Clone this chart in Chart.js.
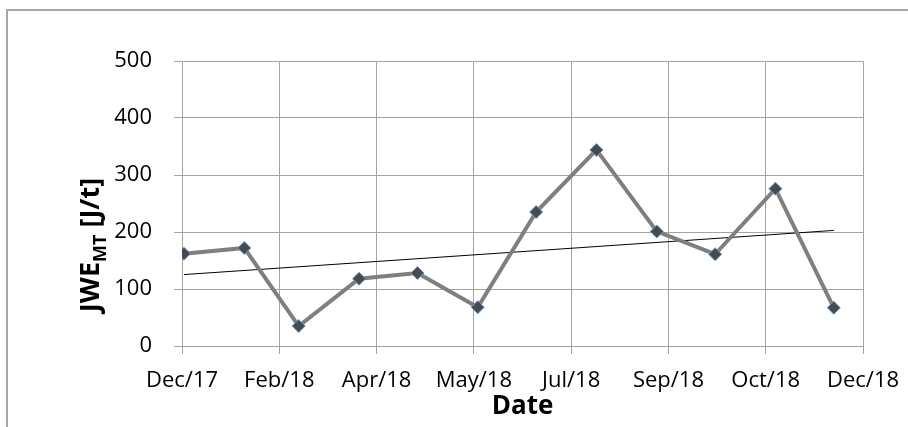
<!DOCTYPE html>
<html>
<head>
<meta charset="utf-8">
<script src="https://cdn.jsdelivr.net/npm/chart.js@4"></script>
<style>
  html, body { margin: 0; padding: 0; background: #fff; }
  #wrap { width: 908px; height: 427px; }
</style>
</head>
<body>
<div id="wrap"><canvas id="chart" width="908" height="427"></canvas></div>
<script>
// monthly samples (1st of each month)
const dates = ['2018-01-01', '2018-02-01', '2018-03-01', '2018-04-01', '2018-05-01', '2018-06-01',
               '2018-07-01', '2018-08-01', '2018-09-01', '2018-10-01', '2018-11-01', '2018-12-01']
const jweValues = [162, 172, 35, 118, 128, 68, 235, 344, 201, 161, 276, 67]

// date axis: starts 31 Dec 2017, a tick every 50 days
const axisStart = '2017-12-31'
const tickLabels = ['Dec/17', 'Feb/18', 'Apr/18', 'May/18', 'Jul/18', 'Sep/18', 'Oct/18', 'Dec/18']
const yTicks = [0, 100, 200, 300, 400, 500]

const DAY = 86400000
const toDay = d => (Date.parse(d) - Date.parse(axisStart)) / DAY

const points = dates.map((d, i) => ({ x: toDay(d), y: jweValues[i] }))

// linear trendline (least squares)
const n = points.length
const mx = points.reduce((s, p) => s + p.x, 0) / n
const my = points.reduce((s, p) => s + p.y, 0) / n
let sxy = 0, sxx = 0
points.forEach(p => { sxy += (p.x - mx) * (p.y - my); sxx += (p.x - mx) ** 2 })
const slope = sxy / sxx
const trend = [points[0].x, points[n - 1].x].map(x => ({ x: x, y: my + slope * (x - mx) }))

const gridColor = '#a3a3a3'
const font = '"Open Sans", "Liberation Sans", sans-serif'

const framePlugin = {
  id: 'frame',
  beforeDraw(chart) {
    const ctx = chart.ctx
    ctx.save()
    ctx.strokeStyle = '#a6a6a6'
    ctx.lineWidth = 2
    ctx.beginPath()
    ctx.moveTo(908, 10)
    ctx.lineTo(7, 10)
    ctx.lineTo(7, 427)
    ctx.stroke()
    ctx.restore()
  }
}

const yTitlePlugin = {
  id: 'yTitle',
  afterDraw(chart) {
    const ctx = chart.ctx
    const mainFont = 'bold 27px ' + font
    const subFont = 'bold 18px ' + font
    ctx.save()
    ctx.font = mainFont
    const w1 = ctx.measureText('JWE').width
    const w3 = ctx.measureText(' [J/t]').width
    ctx.font = subFont
    const w2 = ctx.measureText('MT').width
    const total = w1 + w2 + w3
    ctx.translate(99, 245 + total / 2)
    ctx.rotate(-Math.PI / 2)
    ctx.fillStyle = '#000'
    ctx.textBaseline = 'alphabetic'
    ctx.font = mainFont
    ctx.fillText('JWE', 0, 0)
    ctx.font = subFont
    ctx.fillText('MT', w1, 7)
    ctx.font = mainFont
    ctx.fillText(' [J/t]', w1 + w2, 0)
    ctx.restore()
  }
}

new Chart(document.getElementById('chart'), {
  type: 'scatter',
  data: {
    datasets: [
      {
        label: 'JWE',
        data: points,
        showLine: true,
        borderColor: '#7f7f7f',
        borderWidth: 4,
        pointStyle: 'rectRot',
        pointRadius: 6.5,
        pointBackgroundColor: '#4a4a4a',
        pointBorderColor: '#5b9bd5',
        pointBorderWidth: 1,
        order: 1
      },
      {
        label: 'Trend',
        data: trend,
        showLine: true,
        borderColor: '#000',
        borderWidth: 1,
        pointRadius: 0,
        order: 2
      }
    ]
  },
  options: {
    responsive: false,
    animation: false,
    layout: { padding: { left: 0, top: 61, right: 45, bottom: 0 } },
    plugins: {
      legend: { display: false },
      tooltip: { enabled: false }
    },
    scales: {
      x: {
        type: 'linear',
        min: 0,
        max: 350,
        afterBuildTicks(axis) {
          axis.ticks = tickLabels.map((_, i) => ({ value: i * 50 }))
        },
        afterFit(axis) {
          axis.height = 81
          axis.paddingLeft = 0
          axis.paddingRight = 0
        },
        grid: { color: gridColor, lineWidth: 1, tickLength: 8 },
        border: { color: gridColor, width: 1 },
        ticks: {
          color: '#000',
          font: { family: font, size: 22 },
          padding: 14,
          maxRotation: 0,
          autoSkip: false,
          callback: (v, i) => tickLabels[i]
        },
        title: {
          display: true,
          text: 'Date',
          color: '#000',
          font: { family: font, size: 26, weight: 'bold' },
          padding: { top: 0, bottom: 5 }
        }
      },
      y: {
        min: 0,
        max: 500,
        afterBuildTicks(axis) {
          axis.ticks = yTicks.map(v => ({ value: v }))
        },
        afterFit(axis) {
          axis.width = 182
          axis.paddingTop = 0
          axis.paddingBottom = 0
        },
        grid: { color: gridColor, lineWidth: 1, tickLength: 8 },
        border: { color: gridColor, width: 1 },
        ticks: {
          color: '#000',
          font: { family: font, size: 22 },
          padding: 22
        }
      }
    }
  },
  plugins: [framePlugin, yTitlePlugin]
})
</script>
</body>
</html>
